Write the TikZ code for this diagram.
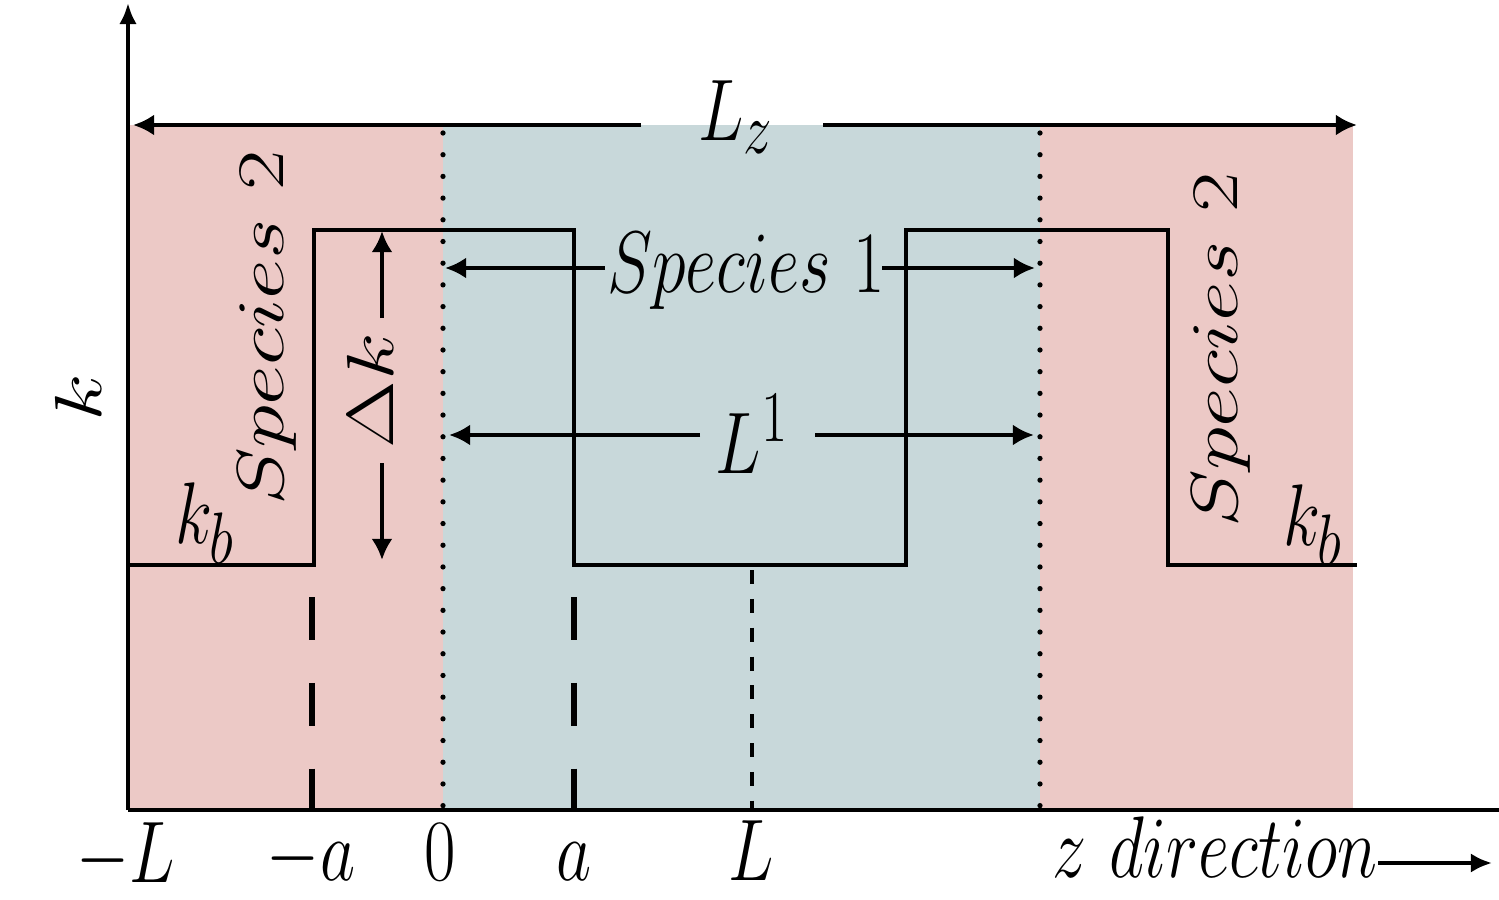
\documentclass[tikz,border=0pt]{standalone}
\usetikzlibrary{arrows.meta}
\definecolor{pinkreg}{RGB}{236,201,198}
\definecolor{bluereg}{RGB}{200,216,218}
\begin{document}
\begin{tikzpicture}[x=0.01cm,y=-0.01cm,
  every node/.style={font=\fontsize{27.4}{32}\selectfont, inner sep=0pt},
  hlab/.style={xscale=0.78},
  vlab/.style={rotate=90, yscale=0.76},
  axisline/.style={line width=1.2pt},
  prof/.style={line width=1.1pt},
  dimarrow/.style={line width=1.2pt, -{Latex[length=6pt,width=6pt]}},
  dotb/.style={line width=1.5pt, line cap=round, dash pattern=on 0pt off 6.17pt},
  dashv/.style={line width=1.6pt, dash pattern=on 12.2pt off 12.2pt},
  dashs/.style={line width=1.4pt, dash pattern=on 4pt off 4.2pt}
]
\useasboundingbox (0,0) rectangle (1499,900);
% regions
\fill[pinkreg] (128,125) rectangle (443,810);
\fill[pinkreg] (1040,125) rectangle (1353,810);
\fill[bluereg] (443,125) rectangle (1040,810);
% region boundaries
\draw[dotb] (443,133) -- (443,810);
\draw[dotb] (1040,133) -- (1040,810);
% profile
\draw[prof] (128,565) -- (314,565) -- (314,230) -- (574,230) -- (574,565)
  -- (906,565) -- (906,230) -- (1168,230) -- (1168,565) -- (1357,565);
% vertical guides
\coordinate (ga1) at (312,597); \coordinate (ga2) at (312,810);
\coordinate (gb1) at (574,597); \coordinate (gb2) at (574,810);
\coordinate (gc1) at (752,570); \coordinate (gc2) at (752,810);
\draw[dashv] (ga1) -- (ga2);
\draw[dashv] (gb1) -- (gb2);
\draw[dashs] (gc1) -- (gc2);
% axes
\coordinate (O) at (128,810);
\coordinate (ytop) at (128,3);
\coordinate (xend) at (1499,810);
\draw[axisline, -{Latex[length=6pt,width=5pt]}] (O) -- (ytop);
\draw[axisline] (O) -- (xend);
% L_z
\node[hlab, anchor=base] (Lz) at (736,140) {$L_z$};
\coordinate (lzl) at (133,125); \coordinate (lzla) at (641,125);
\coordinate (lzr) at (1357,125); \coordinate (lzra) at (823,125);
\draw[dimarrow] (lzla) -- (lzl);
\draw[dimarrow] (lzra) -- (lzr);
% Species 1
\node[hlab, anchor=base] (sp1) at (746,292) {$Species\ 1$};
\coordinate (s1l) at (445,268); \coordinate (s1la) at (605,268);
\coordinate (s1r) at (1035,268); \coordinate (s1ra) at (882,268);
\draw[dimarrow] (s1la) -- (s1l);
\draw[dimarrow] (s1ra) -- (s1r);
% L^1
\node[hlab, anchor=base] (L1) at (752,473) {$L^1$};
\coordinate (l1l) at (449,435); \coordinate (l1la) at (700,435);
\coordinate (l1r) at (1034,435); \coordinate (l1ra) at (815,435);
\draw[dimarrow] (l1la) -- (l1l);
\draw[dimarrow] (l1ra) -- (l1r);
% Delta k
\node[vlab, anchor=base] (dk) at (393,391) {$\Delta k$};
\coordinate (dkt) at (382,231); \coordinate (dkta) at (382,318);
\coordinate (dkb) at (382,560); \coordinate (dkba) at (382,463);
\draw[dimarrow] (dkta) -- (dkt);
\draw[dimarrow] (dkba) -- (dkb);
% labels
\node[vlab, anchor=base] (k) at (101,398) {$k$};
\node[vlab, anchor=base] (sp2l) at (283,328) {$Species\ 2$};
\node[vlab, anchor=base] (sp2r) at (1237,350) {$Species\ 2$};
\node[hlab, anchor=base] (kbl) at (205,543) {$k_b$};
\node[hlab, anchor=base] (kbr) at (1313,545) {$k_b$};
% tick labels
\node[hlab, anchor=base] (tmL) at (126,882) {$-L$};
\node[hlab, anchor=base] (tma) at (311,880) {$-a$};
\node[hlab, anchor=base] (t0) at (440,880) {$0$};
\node[hlab, anchor=base] (ta) at (574,880) {$a$};
\node[hlab, anchor=base] (tL) at (751,880) {$L$};
\node[hlab, anchor=base] (zdir) at (1215,877) {$z\ direction$};
\coordinate (zarr) at (1492,863);
\draw[line width=1.2pt, -{Latex[length=6pt,width=5.5pt]}] (zdir.east |- zarr) -- (zarr);
\end{tikzpicture}
\end{document}
